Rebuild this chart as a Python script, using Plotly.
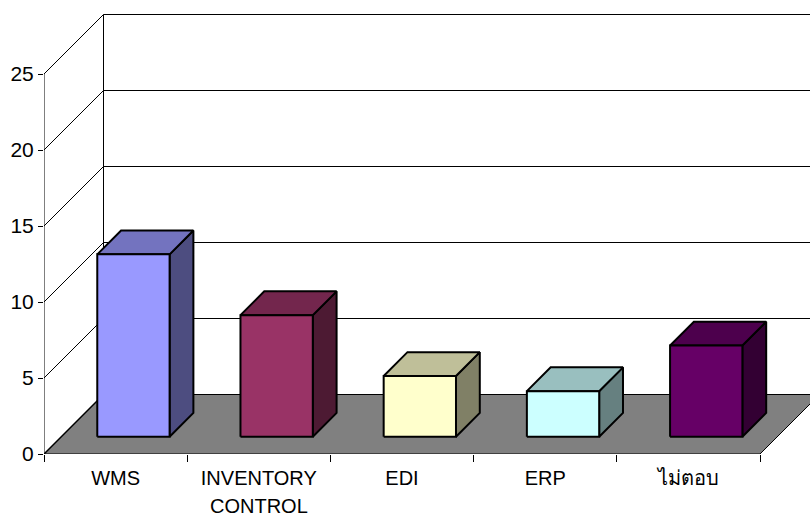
import plotly.graph_objects as go

categories = ["WMS", "INVENTORY CONTROL", "EDI", "ERP", "ไม่ตอบ"]
values = [12, 8, 4, 3, 6]
front_colors = ["#9999FF", "#993366", "#FFFFCC", "#CCFFFF", "#660066"]
top_colors = ["#7373BF", "#73264D", "#BFBF99", "#99BFBF", "#4D004D"]
side_colors = ["#4D4D80", "#4D1A33", "#808066", "#668080", "#330033"]
y_ticks = [0, 5, 10, 15, 20, 25]

# pixel layout
W, H = 810, 517
L, BOT, TOP = 44, 454, 8
PX_X = 143.2
PX_Y = 15.2
DEPTH = 59.5
DX = DEPTH / PX_X
DY = DEPTH / PX_Y
BAR_W = 0.505
D0, D1 = 0.29, 0.69
N = len(categories)
X_MAX = (W - L) / PX_X
Y_MAX = (BOT - TOP) / PX_Y


def proj(x, v, d):
    return x + d * DX, v + d * DY


def poly(points, fill, lw):
    xs, ys = zip(*[proj(*p) for p in points + points[:1]])
    return go.Scatter(x=xs, y=ys, mode="lines", fill="toself", fillcolor=fill,
                      line=dict(color="black", width=lw), hoverinfo="skip",
                      showlegend=False, cliponaxis=False)


def seg(points, lw=1):
    xs, ys = zip(*[proj(*p) for p in points])
    return go.Scatter(x=xs, y=ys, mode="lines", line=dict(color="black", width=lw),
                      hoverinfo="skip", showlegend=False, cliponaxis=False)


fig = go.Figure()

# floor
fig.add_trace(poly([(0, 0, 0), (N, 0, 0), (N, 0, 1), (0, 0, 1)], "#808080", 1))

# walls
top_val = y_ticks[-1]
fig.add_trace(seg([(0, 0, 0), (0, top_val, 0)]))
fig.add_trace(seg([(0, 0, 1), (0, top_val, 1)]))
for t in y_ticks:
    fig.add_trace(seg([(0, t, 0), (0, t, 1), (X_MAX, t, 1)]))
fig.add_trace(seg([(0, 0, 0), (0, 0, 1)], 1.5))

# bars
for i, v in enumerate(values):
    x0 = i + 0.5 - BAR_W / 2 + 0.004
    x1 = i + 0.5 + BAR_W / 2 + 0.004
    fig.add_trace(poly([(x1, 0, D0), (x1, 0, D1), (x1, v, D1), (x1, v, D0)], side_colors[i], 2))
    fig.add_trace(poly([(x0, v, D0), (x1, v, D0), (x1, v, D1), (x0, v, D1)], top_colors[i], 2))
    fig.add_trace(poly([(x0, 0, D0), (x1, 0, D0), (x1, v, D0), (x0, v, D0)], front_colors[i], 2))

first_lines = [c.split(" ")[0] if " " in c else c for c in categories]

fig.update_layout(
    width=W, height=H, autosize=False,
    margin=dict(l=L, r=0, t=TOP, b=H - BOT, pad=0),
    paper_bgcolor="white", plot_bgcolor="white",
    showlegend=False,
    font=dict(family="Liberation Sans, Arial, sans-serif", color="black"),
    xaxis=dict(range=[0, X_MAX], showgrid=False, zeroline=False, showline=False,
               tickmode="array", tickvals=[i + 0.5 for i in range(N)], ticktext=first_lines,
               ticks="", ticklabelstandoff=10, tickfont=dict(size=20),
               minor=dict(tickmode="array", tickvals=list(range(N + 1)), ticks="outside",
                          ticklen=7, tickwidth=1, tickcolor="black")),
    yaxis=dict(range=[0, Y_MAX], showgrid=False, zeroline=False, showline=False,
               tickmode="array", tickvals=y_ticks, ticks="outside", ticklen=5, tickwidth=1,
               tickcolor="black", tickfont=dict(size=21)),
)

for i, c in enumerate(categories):
    if " " in c:
        fig.add_annotation(x=i + 0.5, y=0, xref="x", yref="y", yanchor="top", yshift=-40,
                           text=c.split(" ", 1)[1], showarrow=False, font=dict(size=20),
                           borderpad=0)

fig.write_html("out.html", config=dict(displayModeBar=False),
               post_script="document.body.style.margin='0';document.documentElement.style.overflow='hidden';")
